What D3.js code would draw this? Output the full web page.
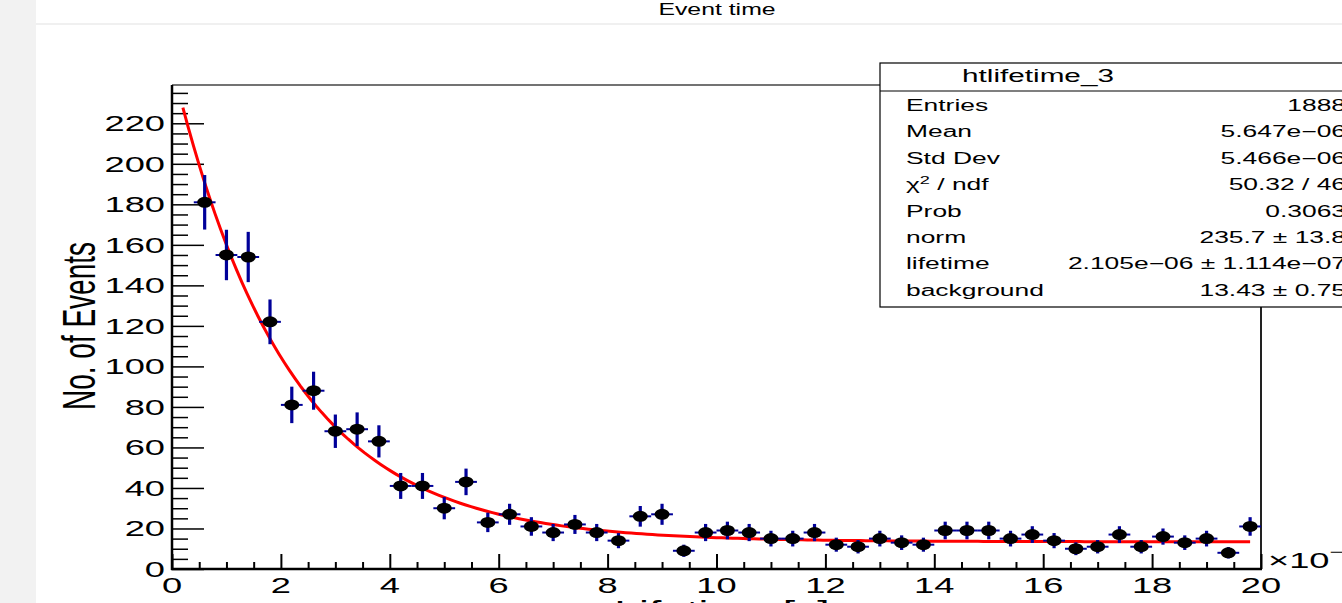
<!DOCTYPE html>
<html>
<head>
<meta charset="utf-8">
<script src="https://cdn.jsdelivr.net/npm/d3@7"></script>
<style>
  html, body { margin: 0; padding: 0; background: #ffffff; overflow: hidden; }
  svg { display: block; font-family: "Liberation Sans", Arial, Helvetica, sans-serif; }
</style>
</head>
<body>
<svg id="chart" width="1342" height="603"></svg>
<script>
// ---------------- DATA ----------------
const chartTitle = "Event time";
const xTitle = "Lifetime [s]";
const yTitle = "No. of Events";
const xExponent = "\u22126";

// bin centres (units of 1e-6 s), bin width 0.4
const binCenters = [0.6, 1.0, 1.4, 1.8, 2.2, 2.6, 3.0, 3.4, 3.8, 4.2, 4.6, 5.0, 5.4, 5.8,
  6.2, 6.6, 7.0, 7.4, 7.8, 8.2, 8.6, 9.0, 9.4, 9.8, 10.2, 10.6, 11.0, 11.4, 11.8,
  12.2, 12.6, 13.0, 13.4, 13.8, 14.2, 14.6, 15.0, 15.4, 15.8, 16.2, 16.6, 17.0,
  17.4, 17.8, 18.2, 18.6, 19.0, 19.4, 19.8];
const binCounts = [181, 155, 154, 122, 81, 88, 68, 69, 63, 41, 41, 30, 43, 23,
  27, 21, 18, 22, 18, 14, 26, 27, 9, 18, 19, 18, 15, 15, 18,
  12, 11, 15, 13, 12, 19, 19, 19, 15, 17, 14, 10, 11,
  17, 11, 16, 13, 15, 8, 21];
const binHalfWidth = [0.2];

// fit parameters shown in the stats box: norm, lifetime (1e-6 s), background
const fitNorm = [235.7];
const fitLifetime = [2.105];
const fitBackground = [13.43];
const fitRange = [0.2, 19.8];

const xMajorTicks = [0, 2, 4, 6, 8, 10, 12, 14, 16, 18, 20];
const yMajorTicks = [0, 20, 40, 60, 80, 100, 120, 140, 160, 180, 200, 220];

const statsTitle = "htlifetime_3";
const statsLabels = ["Entries", "Mean", "Std Dev", "CHI", "Prob", "norm", "lifetime", "background"];
const statsValues = ["1888", "5.647e\u221206", "5.466e\u221206", "50.32 / 46", "0.3063",
  "235.7 \u00b1 13.8", "2.105e\u221206 \u00b1 1.114e\u221207", "13.43 \u00b1 0.75"];

// ---------------- LAYOUT ----------------
const W = 1342, H = 603;
const frame = { left: 172, right: 1261, top: 85, bottom: 569 };
const SX = 1.65; // horizontal text stretch seen in the picture

const svg = d3.select("#chart");

svg.append("rect").attr("x", 0).attr("y", 0).attr("width", W).attr("height", H).attr("fill", "#ffffff");
svg.append("rect").attr("x", 0).attr("y", 0).attr("width", 36).attr("height", H).attr("fill", "#f2f2f2");
svg.append("rect").attr("x", 36).attr("y", 23).attr("width", W - 36).attr("height", 2).attr("fill", "#f0f0f0");

function stext(parent, x, y, str, size, anchor, sx) {
  return parent.append("text")
    .attr("transform", `translate(${x},${y}) scale(${sx === undefined ? SX : sx},1)`)
    .attr("text-anchor", anchor || "start")
    .attr("font-size", size)
    .attr("fill", "#000")
    .text(str);
}

// title
stext(svg, 717, 15, chartTitle, 17, "middle", 1.46);

const x = d3.scaleLinear().domain([0, 20]).range([frame.left, frame.right]);
const y = d3.scaleLinear().domain([0, 238.9]).range([frame.bottom, frame.top]);

// frame
svg.append("line").attr("x1", frame.left).attr("x2", frame.right).attr("y1", frame.top).attr("y2", frame.top)
  .attr("stroke", "#444").attr("stroke-width", 1.5);
svg.append("line").attr("x1", frame.right).attr("x2", frame.right).attr("y1", frame.top).attr("y2", frame.bottom)
  .attr("stroke", "#222").attr("stroke-width", 2);

// y axis ticks
const yMinor = d3.range(0, 236, 5).filter(v => v % 20 !== 0);
const yAxisMinor = d3.axisLeft(y).tickValues(yMinor).tickSize(-16).tickFormat("");
const yAxisMajor = d3.axisLeft(y).tickValues(yMajorTicks).tickSize(-32).tickFormat("");
const gyMin = svg.append("g").attr("transform", `translate(${frame.left},0)`).call(yAxisMinor);
const gyMaj = svg.append("g").attr("transform", `translate(${frame.left},0)`).call(yAxisMajor);
[gyMin, gyMaj].forEach(g => {
  g.select(".domain").remove();
  g.selectAll(".tick line").attr("stroke", "#000").attr("stroke-width", 1.5);
});

// x axis ticks
const xMinor = d3.range(0, 20.01, 0.5).filter(v => Math.abs(v % 2) > 1e-9);
const xAxisMinor = d3.axisBottom(x).tickValues(xMinor).tickSize(-7).tickFormat("");
const xAxisMajor = d3.axisBottom(x).tickValues(xMajorTicks).tickSize(-15).tickFormat("");
const gxMin = svg.append("g").attr("transform", `translate(0,${frame.bottom})`).call(xAxisMinor);
const gxMaj = svg.append("g").attr("transform", `translate(0,${frame.bottom})`).call(xAxisMajor);
[gxMin, gxMaj].forEach(g => {
  g.select(".domain").remove();
  g.selectAll(".tick line").attr("stroke", "#000").attr("stroke-width", 2);
});

// axis lines
svg.append("line").attr("x1", frame.left).attr("x2", frame.left).attr("y1", frame.top).attr("y2", frame.bottom + 1)
  .attr("stroke", "#000").attr("stroke-width", 2.5);
svg.append("line").attr("x1", frame.left - 1).attr("x2", frame.right + 1).attr("y1", frame.bottom).attr("y2", frame.bottom)
  .attr("stroke", "#000").attr("stroke-width", 2.5);

// tick labels
const gyl = svg.append("g");
yMajorTicks.forEach(v => stext(gyl, 165, y(v) + 8, String(v), 22, "end"));
const gxl = svg.append("g");
xMajorTicks.forEach(v => stext(gxl, x(v), 593, String(v), 22, "middle"));

// exponent label
const exp = svg.append("text")
  .attr("transform", `translate(1268,568) scale(${SX},1)`)
  .attr("font-size", 22).attr("fill", "#000");
exp.append("tspan").text("\u00d710");
exp.append("tspan").attr("font-size", 15).attr("dy", -11).text(xExponent);

// axis titles
svg.append("text")
  .attr("transform", `translate(95,326) scale(${SX},1) rotate(-90)`)
  .attr("text-anchor", "middle").attr("font-size", 28).attr("fill", "#000")
  .text(yTitle);
stext(svg, 722, 620, xTitle, 27, "middle");

// data: error bars + markers
const pts = binCenters.map((c, i) => ({ c: c, n: binCounts[i] }));
const gData = svg.append("g");
gData.selectAll("line.vbar").data(pts).enter().append("line")
  .attr("class", "vbar")
  .attr("x1", d => x(d.c)).attr("x2", d => x(d.c))
  .attr("y1", d => y(d.n + Math.sqrt(d.n))).attr("y2", d => y(d.n - Math.sqrt(d.n)))
  .attr("stroke", "#000099").attr("stroke-width", 3.2);
gData.selectAll("line.hbar").data(pts).enter().append("line")
  .attr("class", "hbar")
  .attr("x1", d => x(d.c - binHalfWidth[0])).attr("x2", d => x(d.c + binHalfWidth[0]))
  .attr("y1", d => y(d.n)).attr("y2", d => y(d.n))
  .attr("stroke", "#000099").attr("stroke-width", 2);

// fit curve
const fitX = d3.range(fitRange[0], fitRange[1] + 1e-9, (fitRange[1] - fitRange[0]) / 200);
const fitPts = fitX.map(t => [t, fitNorm[0] * Math.exp(-t / fitLifetime[0]) + fitBackground[0]]);
const lineGen = d3.line().x(d => x(d[0])).y(d => y(d[1]));
svg.append("path").datum(fitPts).attr("d", lineGen)
  .attr("fill", "none").attr("stroke", "#ff0000").attr("stroke-width", 3);

gData.raise();
gData.selectAll("ellipse").data(pts).enter().append("ellipse")
  .attr("cx", d => x(d.c)).attr("cy", d => y(d.n))
  .attr("rx", 7.5).attr("ry", 5.5).attr("fill", "#000");

// stats box
const sb = { x: 880, y: 63, w: 520, h: 244, sep: 91 };
const gs = svg.append("g");
gs.append("rect").attr("x", sb.x).attr("y", sb.y).attr("width", sb.w).attr("height", sb.h)
  .attr("fill", "#fff").attr("stroke", "#000").attr("stroke-width", 1.2);
gs.append("line").attr("x1", sb.x).attr("x2", sb.x + sb.w).attr("y1", sb.sep).attr("y2", sb.sep)
  .attr("stroke", "#000").attr("stroke-width", 1.2);
stext(gs, 1038, 82, statsTitle, 18, "middle");
statsLabels.forEach((lab, i) => {
  const yy = 111 + i * 26.4;
  if (lab === "CHI") {
    const t = gs.append("text").attr("transform", `translate(906,${yy}) scale(${SX},1)`)
      .attr("font-size", 16).attr("fill", "#000");
    t.append("tspan").text("\u03c7");
    t.append("tspan").attr("font-size", 11).attr("dy", -6).text("2");
    t.append("tspan").attr("dy", 6).text(" / ndf");
  } else {
    stext(gs, 906, yy, lab, 16, "start");
  }
  stext(gs, 1346, yy, statsValues[i], 16, "end");
});
</script>
</body>
</html>
